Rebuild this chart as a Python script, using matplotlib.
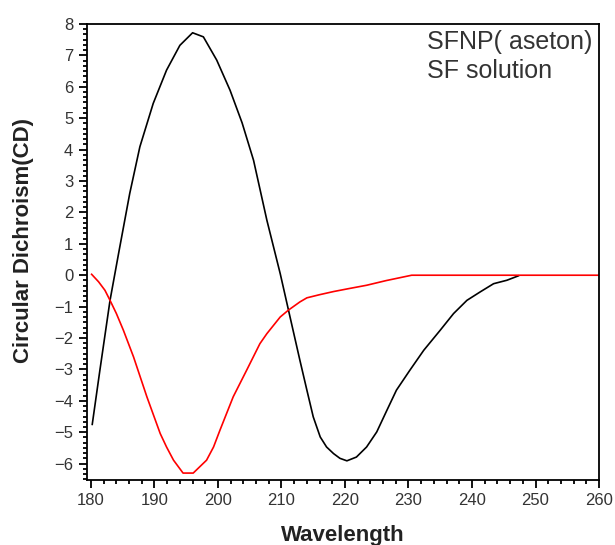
import matplotlib
matplotlib.use("Agg")
import matplotlib.pyplot as plt
from matplotlib.ticker import MultipleLocator, AutoMinorLocator

plt.rcParams['font.family'] = ['Liberation Sans', 'DejaVu Sans']

# SFNP (aseton) - black curve
wl_sfnp = [180.2, 181.4, 183.0, 184.4, 186.1, 187.7, 189.8, 191.9, 194.0, 196.0,
           197.7, 199.8, 201.9, 203.8, 205.6, 207.7, 209.8, 211.1, 212.9, 214.0,
           215.0, 216.1, 217.1, 218.2, 219.2, 220.3, 221.8, 223.4, 225.0, 226.6,
           228.1, 230.2, 232.4, 235.0, 237.1, 239.2, 241.3, 243.4, 245.5, 247.3]
cd_sfnp = [-4.75, -3.03, -0.80, 0.75, 2.60, 4.09, 5.47, 6.53, 7.32, 7.72,
           7.59, 6.85, 5.89, 4.85, 3.66, 1.75, 0.05, -1.11, -2.71, -3.66,
           -4.51, -5.15, -5.47, -5.68, -5.83, -5.91, -5.79, -5.47, -4.99, -4.30,
           -3.66, -3.03, -2.39, -1.75, -1.22, -0.80, -0.53, -0.27, -0.16, -0.02]

# SF solution - red curve
wl_sf = [180.1, 181.2, 182.2, 183.0, 184.0, 185.1, 186.7, 188.8, 190.9, 191.9,
         193.0, 194.5, 196.1, 198.2, 199.3, 200.3, 202.4, 204.5, 206.6, 207.7,
         209.8, 211.1, 212.9, 214.0, 216.0, 218.2, 220.5, 223.4, 226.5, 230.5, 260.0]
cd_sf = [0.03, -0.21, -0.48, -0.80, -1.22, -1.75, -2.60, -3.87, -5.04, -5.47,
         -5.89, -6.30, -6.30, -5.89, -5.47, -4.94, -3.87, -3.03, -2.18, -1.86,
         -1.33, -1.11, -0.85, -0.72, -0.62, -0.52, -0.43, -0.32, -0.17, 0.0, 0.0]

series_names = ["SFNP( aseton)", "SF solution"]

fig = plt.figure(figsize=(6.15, 5.45), dpi=100)
ax = fig.add_axes([0.1407, 0.1193, 0.974 - 0.1407, 0.956 - 0.1193])

ax.plot(wl_sfnp, cd_sfnp, color='black', lw=1.2, label=series_names[0])
ax.plot(wl_sf, cd_sf, color='#ff0000', lw=1.2, label=series_names[1])

ax.set_xlim(179.3, 260)
ax.set_ylim(-6.52, 8)
ax.xaxis.set_major_locator(MultipleLocator(10))
ax.xaxis.set_minor_locator(AutoMinorLocator(5))
ax.yaxis.set_major_locator(MultipleLocator(1))
ax.yaxis.set_minor_locator(AutoMinorLocator(6))

for s in ax.spines.values():
    s.set_linewidth(1.3)
    s.set_color('black')

ax.tick_params(which='both', direction='out', top=False, right=False,
               width=1.3, colors='black', labelcolor='#333333', labelsize=12)
ax.tick_params(which='major', length=6)
ax.tick_params(which='minor', length=3)

ax.set_xlabel("Wavelength", fontsize=16, fontweight='bold', color='#222222', labelpad=12)
ax.set_ylabel("Circular Dichroism(CD)", fontsize=16, fontweight='bold', color='#222222')
ax.yaxis.set_label_coords(-0.102, 0.525)

leg = ax.legend(handlelength=0, handletextpad=0, frameon=False, fontsize=18,
                loc='upper left', bbox_to_anchor=(0.645, 1.008), labelspacing=0.2,
                borderaxespad=0)
for h in leg.legend_handles:
    h.set_visible(False)
for t in leg.get_texts():
    t.set_color('#333333')

fig.savefig("out.png", dpi=100)
